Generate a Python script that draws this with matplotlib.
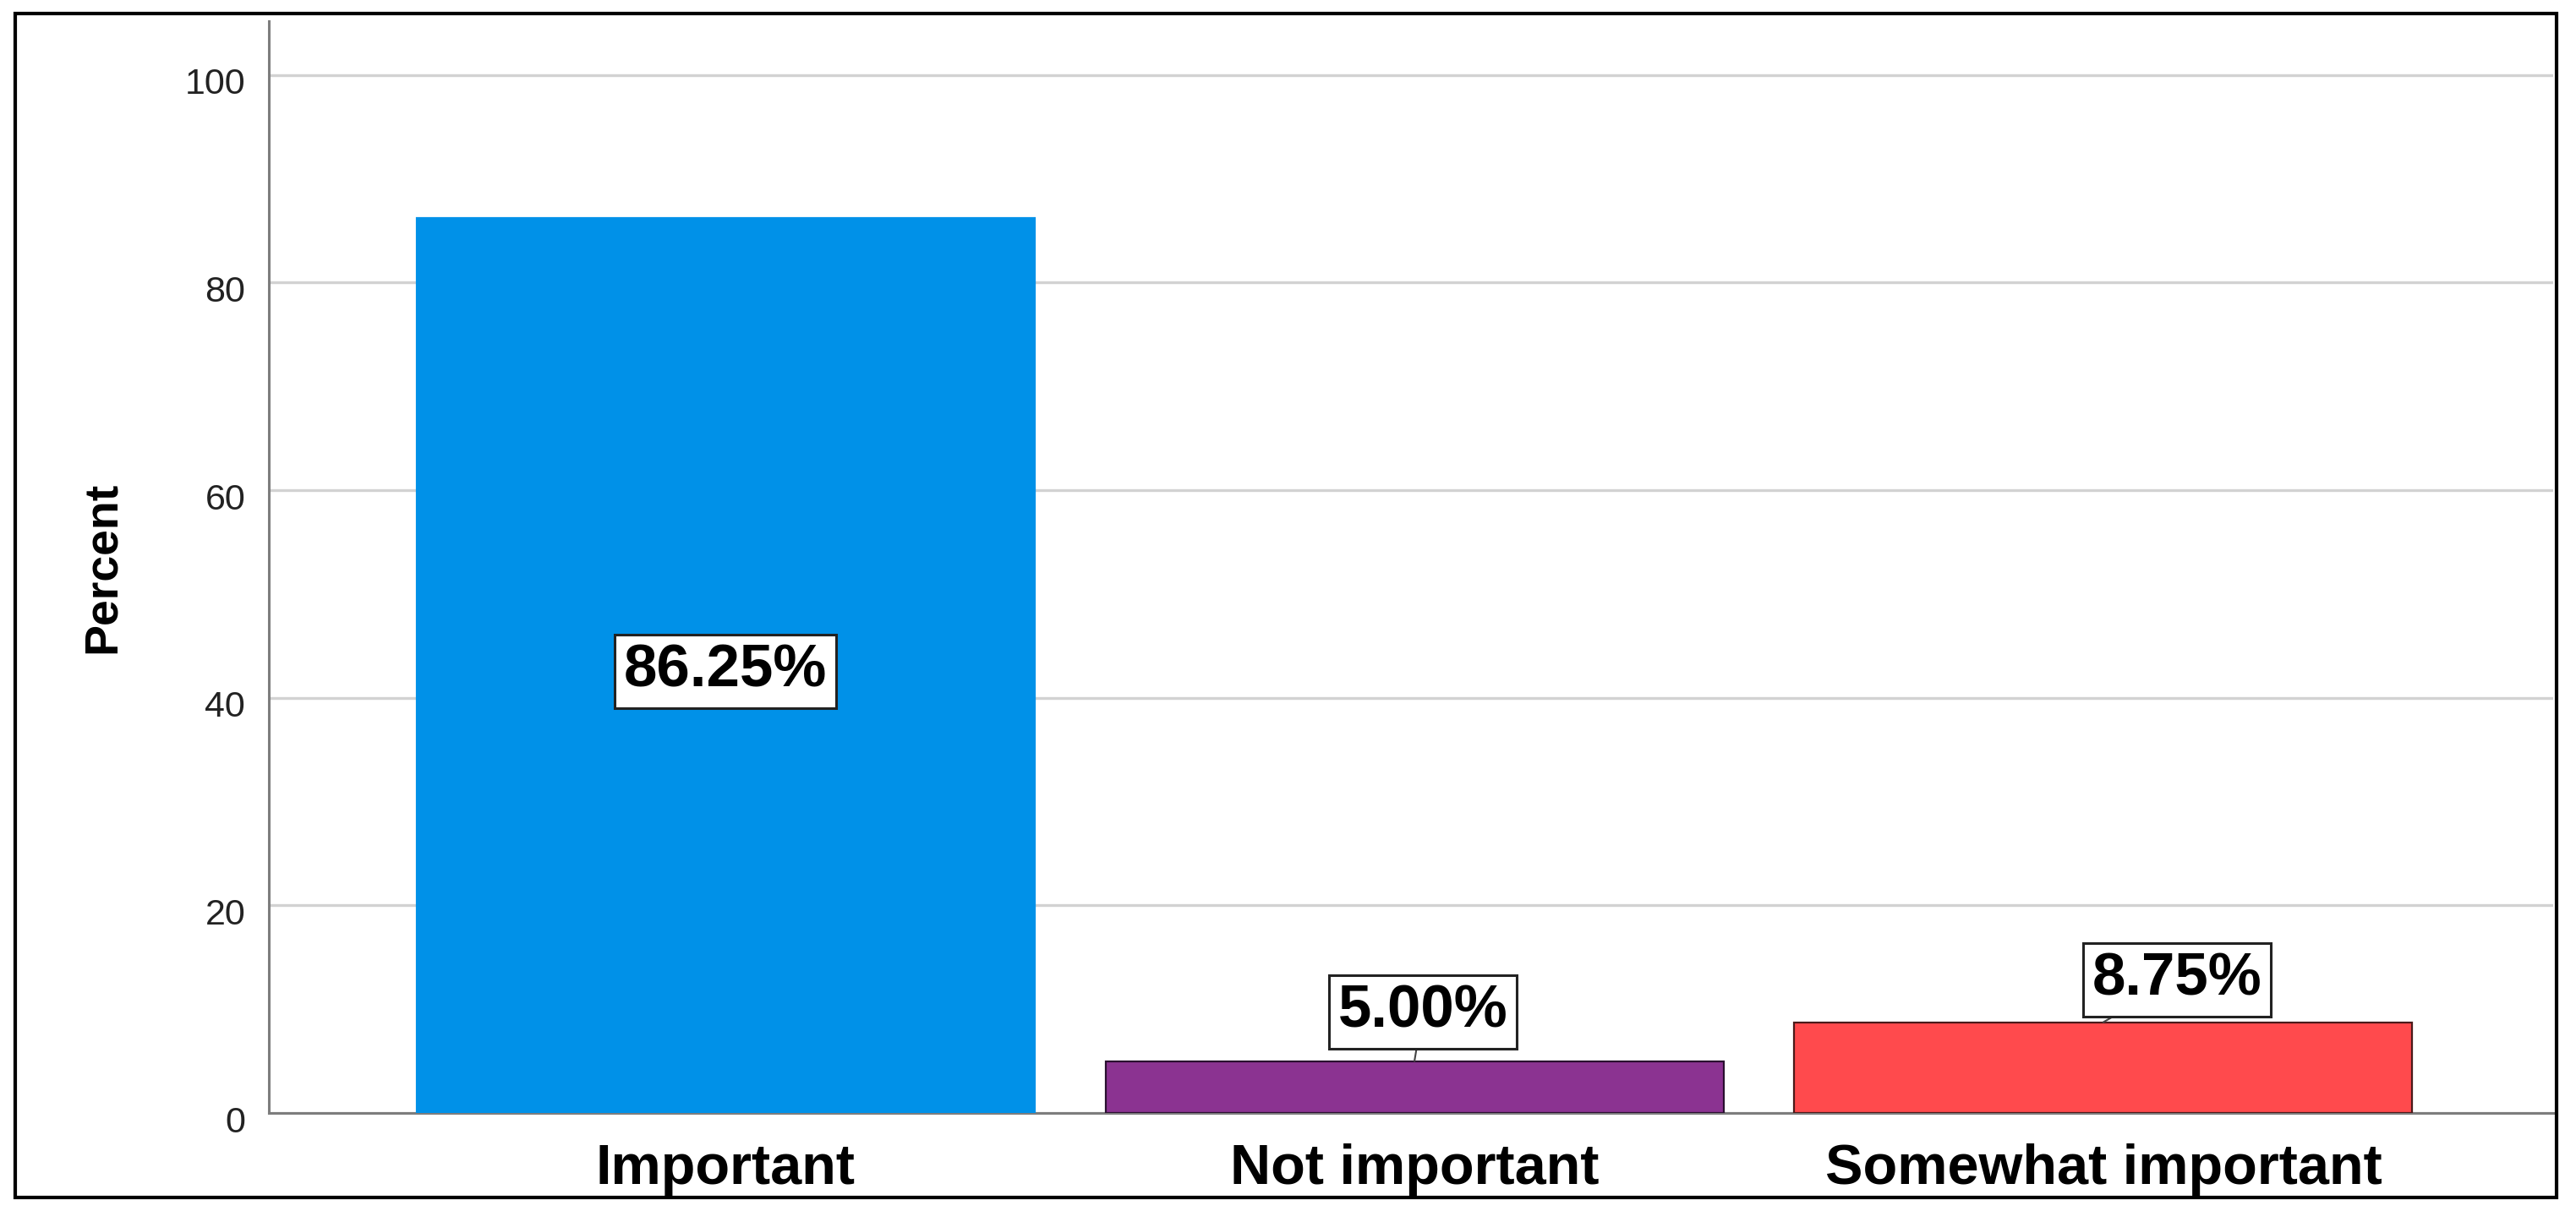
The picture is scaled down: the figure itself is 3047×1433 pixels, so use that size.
import matplotlib
matplotlib.use("Agg")
import matplotlib.pyplot as plt
from matplotlib.patches import Rectangle
from matplotlib.transforms import ScaledTranslation

categories = ["Important", "Not important", "Somewhat important"]
percents = [86.25, 5.00, 8.75]
bar_labels = ["86.25%", "5.00%", "8.75%"]
yticks = [0, 20, 40, 60, 80, 100]

colors = ["#0091E8", "#8B3391", "#FF4A4D"]
edgecolors = ["#0091E8", "#2a1030", "#4a1a1a"]

plt.rcParams["font.family"] = ["Liberation Sans", "DejaVu Sans"]

fig = plt.figure(figsize=(30.47, 14.33), dpi=100)
fig.patch.set_facecolor("white")
ax = fig.add_axes([318/3047, 1-1317/1433, (3020-318)/3047, (1317-25)/1433])

x = list(range(len(categories)))
bars = ax.bar(x, percents, width=0.897, color=colors, edgecolor=edgecolors,
              linewidth=1.6, zorder=3)

ax.set_xlim(-0.663, 2.653)
ax.set_ylim(0, 105.2)
ax.set_yticks(yticks)
ax.set_yticklabels([str(v) for v in yticks], fontsize=31, color="#222222")
ax.set_xticks(x)
ax.set_xticklabels(categories, fontsize=48, fontweight="bold", color="black")
ax.tick_params(axis="y", length=0, pad=20)
ax.tick_params(axis="x", length=0, pad=26)
shift = ScaledTranslation(0, -7/100, fig.dpi_scale_trans)
for lab in ax.get_yticklabels():
    lab.set_transform(lab.get_transform() + shift)

ax.yaxis.grid(True, color="#d2d2d2", linewidth=2.4, zorder=0)
ax.set_axisbelow(True)
for s in ["top", "right"]:
    ax.spines[s].set_visible(False)
for s in ["left", "bottom"]:
    ax.spines[s].set_color("#7d7d7d")
    ax.spines[s].set_linewidth(2.2)

ax.set_ylabel("Percent", fontsize=40, fontweight="bold")
ax.yaxis.set_label_coords(-0.0629, 0.5)

box = dict(boxstyle="square,pad=0.15", facecolor="white", edgecolor="#222222", linewidth=2.2)

# inside label for the tall bar
ax.annotate(bar_labels[0], xy=(x[0], percents[0] / 2), xytext=(0, -5.4),
            textcoords="offset points", ha="center", va="center",
            fontsize=51, fontweight="bold", bbox=box, zorder=5)

# labels above the short bars
offsets = [(7, 42), (63, 36)]
for i, (dx, dy) in zip([1, 2], offsets):
    ax.annotate(bar_labels[i], xy=(x[i], percents[i]), xytext=(dx, dy),
                textcoords="offset points", ha="center", va="center",
                fontsize=51, fontweight="bold", bbox=box, zorder=5,
                arrowprops=dict(arrowstyle="-", color="#444444", lw=1.5,
                                shrinkA=0, shrinkB=0))

# outer frame
fig.add_artist(Rectangle((18/3047, 1-1417/1433), (3024-18)/3047, (1417-16)/1433,
                         transform=fig.transFigure, fill=False,
                         edgecolor="black", linewidth=3))

fig.savefig("out.png", dpi=100)
